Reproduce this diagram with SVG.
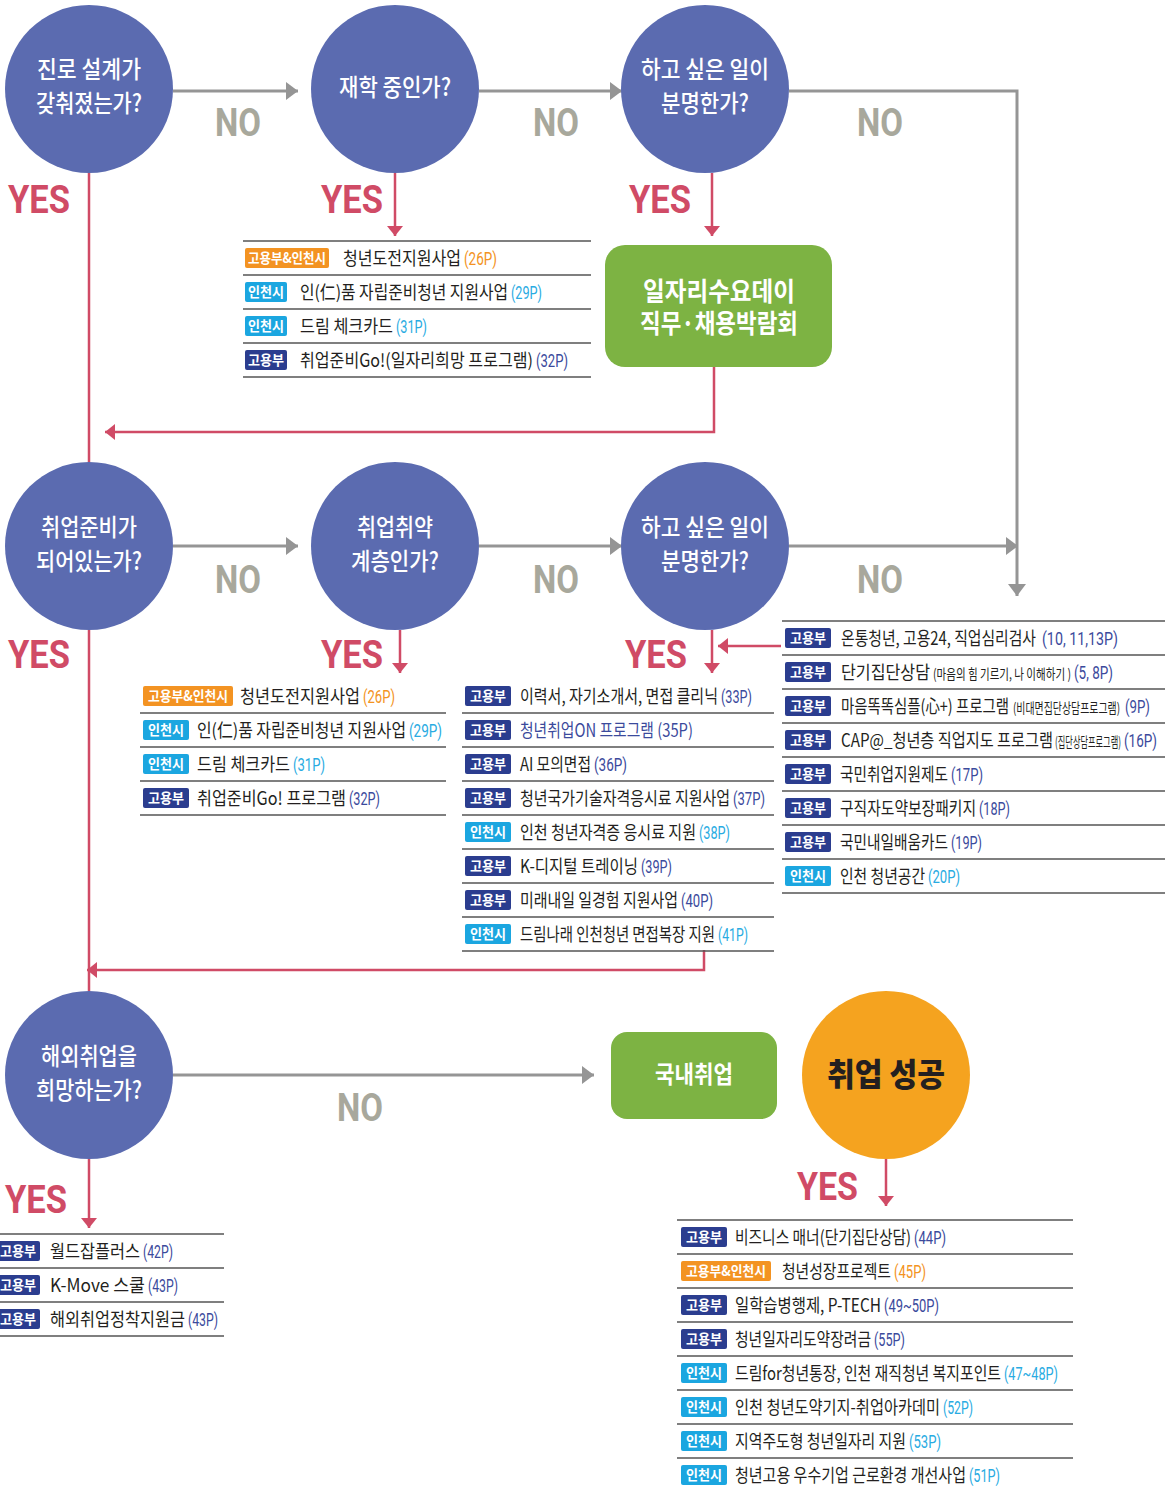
<svg xmlns="http://www.w3.org/2000/svg" width="1173" height="1487" viewBox="0 0 1173 1487">
<style>
.q{fill:#5b6bb0}
.qt{fill:#fff;font-family:"Noto Sans CJK KR",sans-serif;font-size:24px;font-weight:500;text-anchor:middle}
.yes{fill:#d04b66;font-family:Roboto,"Liberation Sans",sans-serif;font-size:39px;font-weight:700}
.no{fill:#a8a89c;font-family:Roboto,"Liberation Sans",sans-serif;font-size:38px;font-weight:700}
.gl{stroke:#959595;stroke-width:3;fill:none}
.rl{stroke:#d04b66;stroke-width:2.5;fill:none}
.sep{stroke:#555;stroke-width:1.5}
.bn{fill:#2b3d8f}.bc{fill:#1ba6e0}.bo{fill:#f39322}
.bt{fill:#fff;font-family:"Noto Sans CJK KR",sans-serif;font-size:14px;font-weight:700;text-anchor:middle}
.lt{fill:#231f20;font-family:"Noto Sans CJK KR",sans-serif;font-size:18px}
.pg{font-family:Roboto,"Noto Sans CJK KR",sans-serif;font-size:18px}
.pn{fill:#3b4a9c}.pc{fill:#29abe2}.po{fill:#f39322}
.sm{font-size:14px}
</style>
<defs>
<marker id="ga" markerUnits="userSpaceOnUse" markerWidth="14" markerHeight="18" refX="12" refY="9" orient="auto"><path d="M0,0 L12,9 L0,18 z" fill="#959595"/></marker>
<marker id="ra" markerUnits="userSpaceOnUse" markerWidth="12" markerHeight="18" refX="10" refY="9" orient="auto"><path d="M0,1 L10,9 L0,17 z" fill="#d04b66"/></marker>
</defs>

<g id="connectors">
<line class="gl" x1="173" y1="91" x2="298" y2="91" marker-end="url(#ga)"/>
<line class="gl" x1="479" y1="91" x2="622" y2="91" marker-end="url(#ga)"/>
<polyline class="gl" points="789,91 1017,91 1017,596" marker-end="url(#ga)"/>
<line class="gl" x1="173" y1="546" x2="298" y2="546" marker-end="url(#ga)"/>
<line class="gl" x1="479" y1="546" x2="622" y2="546" marker-end="url(#ga)"/>
<line class="gl" x1="789" y1="546" x2="1018" y2="546" marker-end="url(#ga)"/>
<line class="gl" x1="173" y1="1075" x2="594" y2="1075" marker-end="url(#ga)"/>

<line class="rl" x1="89" y1="173" x2="89" y2="462"/>
<line class="rl" x1="89" y1="630" x2="89" y2="991"/>
<line class="rl" x1="395" y1="173" x2="395" y2="236" marker-end="url(#ra)"/>
<line class="rl" x1="712" y1="173" x2="712" y2="236" marker-end="url(#ra)"/>
<polyline class="rl" points="714,367 714,432 105,432" marker-end="url(#ra)"/>
<line class="rl" x1="400" y1="630" x2="400" y2="673" marker-end="url(#ra)"/>
<line class="rl" x1="712" y1="630" x2="712" y2="673" marker-end="url(#ra)"/>
<line class="rl" x1="781" y1="646" x2="718" y2="646" marker-end="url(#ra)"/>
<polyline class="rl" points="704,950 704,970 87,970" marker-end="url(#ra)"/>
<line class="rl" x1="89" y1="1159" x2="89" y2="1228" marker-end="url(#ra)"/>
<line class="rl" x1="886" y1="1159" x2="886" y2="1206" marker-end="url(#ra)"/>
</g>

<g id="labels">
<text class="yes" x="8" y="213" textLength="62" lengthAdjust="spacingAndGlyphs">YES</text>
<text class="yes" x="321" y="213" textLength="62" lengthAdjust="spacingAndGlyphs">YES</text>
<text class="yes" x="629" y="213" textLength="62" lengthAdjust="spacingAndGlyphs">YES</text>
<text class="yes" x="8" y="668" textLength="62" lengthAdjust="spacingAndGlyphs">YES</text>
<text class="yes" x="321" y="668" textLength="62" lengthAdjust="spacingAndGlyphs">YES</text>
<text class="yes" x="625" y="668" textLength="62" lengthAdjust="spacingAndGlyphs">YES</text>
<text class="yes" x="5" y="1213" textLength="62" lengthAdjust="spacingAndGlyphs">YES</text>
<text class="yes" x="797" y="1200" textLength="61" lengthAdjust="spacingAndGlyphs">YES</text>
<text class="no" x="215" y="136" textLength="46" lengthAdjust="spacingAndGlyphs">NO</text>
<text class="no" x="533" y="136" textLength="46" lengthAdjust="spacingAndGlyphs">NO</text>
<text class="no" x="857" y="136" textLength="46" lengthAdjust="spacingAndGlyphs">NO</text>
<text class="no" x="215" y="593" textLength="46" lengthAdjust="spacingAndGlyphs">NO</text>
<text class="no" x="533" y="593" textLength="46" lengthAdjust="spacingAndGlyphs">NO</text>
<text class="no" x="857" y="593" textLength="46" lengthAdjust="spacingAndGlyphs">NO</text>
<text class="no" x="337" y="1121" textLength="46" lengthAdjust="spacingAndGlyphs">NO</text>
</g>

<g id="q1"><circle class="q" cx="89" cy="89" r="84"/>
<text class="qt" x="89" y="78" textLength="104" lengthAdjust="spacingAndGlyphs">진로 설계가</text>
<text class="qt" x="89" y="112" textLength="106" lengthAdjust="spacingAndGlyphs">갖춰졌는가?</text></g>
<g id="q2"><circle class="q" cx="395" cy="89" r="84"/>
<text class="qt" x="395" y="96" textLength="112" lengthAdjust="spacingAndGlyphs">재학 중인가?</text></g>
<g id="q3"><circle class="q" cx="705" cy="89" r="84"/>
<text class="qt" x="705" y="78" textLength="128" lengthAdjust="spacingAndGlyphs">하고 싶은 일이</text>
<text class="qt" x="705" y="112" textLength="88" lengthAdjust="spacingAndGlyphs">분명한가?</text></g>
<g id="q4"><circle class="q" cx="89" cy="546" r="84"/>
<text class="qt" x="89" y="536" textLength="96" lengthAdjust="spacingAndGlyphs">취업준비가</text>
<text class="qt" x="89" y="570" textLength="106" lengthAdjust="spacingAndGlyphs">되어있는가?</text></g>
<g id="q5"><circle class="q" cx="395" cy="546" r="84"/>
<text class="qt" x="395" y="536" textLength="76" lengthAdjust="spacingAndGlyphs">취업취약</text>
<text class="qt" x="395" y="570" textLength="88" lengthAdjust="spacingAndGlyphs">계층인가?</text></g>
<g id="q6"><circle class="q" cx="705" cy="546" r="84"/>
<text class="qt" x="705" y="536" textLength="128" lengthAdjust="spacingAndGlyphs">하고 싶은 일이</text>
<text class="qt" x="705" y="570" textLength="88" lengthAdjust="spacingAndGlyphs">분명한가?</text></g>
<g id="q7"><circle class="q" cx="89" cy="1075" r="84"/>
<text class="qt" x="89" y="1065" textLength="96" lengthAdjust="spacingAndGlyphs">해외취업을</text>
<text class="qt" x="89" y="1099" textLength="106" lengthAdjust="spacingAndGlyphs">희망하는가?</text></g>

<g id="jobfair"><rect x="605" y="245" width="227" height="122" rx="20" fill="#7db343"/>
<text x="719" y="301" transform="matrix(0.82 0 0 1 129.42 0)" fill="#fff" font-family="Noto Sans CJK KR,sans-serif" font-size="26" font-weight="700" text-anchor="middle" textLength="185.37" lengthAdjust="spacingAndGlyphs">일자리수요데이</text>
<text x="719" y="333" transform="matrix(0.74 0 0 1 186.94 0)" fill="#fff" font-family="Noto Sans CJK KR,sans-serif" font-size="26" font-weight="700" text-anchor="middle" textLength="213.5" lengthAdjust="spacingAndGlyphs">직무·채용박람회</text></g>

<g id="domestic"><rect x="611" y="1032" width="166" height="87" rx="16" fill="#7db343"/>
<text x="694" y="1083" fill="#fff" font-family="Noto Sans CJK KR,sans-serif" font-size="24" font-weight="700" text-anchor="middle" textLength="78" lengthAdjust="spacingAndGlyphs">국내취업</text></g>

<g id="success"><circle cx="886" cy="1075" r="84" fill="#f5a31f"/>
<text x="886" y="1086" fill="#231f20" font-family="Noto Sans CJK KR,sans-serif" font-size="32" font-weight="900" text-anchor="middle" textLength="118" lengthAdjust="spacingAndGlyphs">취업 성공</text></g>

<g id="list1">
<line class="sep" x1="243" y1="241" x2="591" y2="241"/><line class="sep" x1="243" y1="275" x2="591" y2="275"/><line class="sep" x1="243" y1="309" x2="591" y2="309"/><line class="sep" x1="243" y1="343" x2="591" y2="343"/><line class="sep" x1="243" y1="377" x2="591" y2="377"/>
<rect class="bo" x="245" y="248" width="84" height="20" rx="2"/><text class="bt" x="287" y="263" textLength="78" lengthAdjust="spacingAndGlyphs">고용부&amp;인천시</text>
<text class="lt" x="343" y="265" transform="matrix(0.7 0 0 1 102.9 0)" textLength="168.57" lengthAdjust="spacingAndGlyphs">청년도전지원사업</text><text class="pg po" x="464" y="265" transform="matrix(0.66 0 0 1 157.76 0)" textLength="50" lengthAdjust="spacingAndGlyphs">(26P)</text>
<rect class="bc" x="245" y="282" width="42" height="20" rx="2"/><text class="bt" x="266" y="297" textLength="36" lengthAdjust="spacingAndGlyphs">인천시</text>
<text class="lt" x="300" y="299" transform="matrix(0.7 0 0 1 90 0)" textLength="297.14" lengthAdjust="spacingAndGlyphs">인(仁)품 자립준비청년 지원사업</text><text class="pg pc" x="511" y="299" transform="matrix(0.66 0 0 1 173.74 0)" textLength="46.97" lengthAdjust="spacingAndGlyphs">(29P)</text>
<rect class="bc" x="245" y="316" width="42" height="20" rx="2"/><text class="bt" x="266" y="331" textLength="36" lengthAdjust="spacingAndGlyphs">인천시</text>
<text class="lt" x="300" y="333" transform="matrix(0.7 0 0 1 90 0)" textLength="132.86" lengthAdjust="spacingAndGlyphs">드림 체크카드</text><text class="pg pc" x="396" y="333" transform="matrix(0.66 0 0 1 134.64 0)" textLength="46.97" lengthAdjust="spacingAndGlyphs">(31P)</text>
<rect class="bn" x="245" y="350" width="42" height="20" rx="2"/><text class="bt" x="266" y="365" textLength="36" lengthAdjust="spacingAndGlyphs">고용부</text>
<text class="lt" x="300" y="367" transform="matrix(0.7 0 0 1 90 0)" textLength="332.86" lengthAdjust="spacingAndGlyphs">취업준비Go!(일자리희망 프로그램)</text><text class="pg pn" x="536" y="367" transform="matrix(0.66 0 0 1 182.24 0)" textLength="48.48" lengthAdjust="spacingAndGlyphs">(32P)</text>
</g>

<g id="list2">
<line class="sep" x1="140" y1="713" x2="446" y2="713"/><line class="sep" x1="140" y1="747" x2="446" y2="747"/><line class="sep" x1="140" y1="781" x2="446" y2="781"/><line class="sep" x1="140" y1="815" x2="446" y2="815"/>
<rect class="bo" x="143" y="686" width="90" height="20" rx="2"/><text class="bt" x="188" y="701" textLength="80" lengthAdjust="spacingAndGlyphs">고용부&amp;인천시</text>
<text class="lt" x="240" y="703" transform="matrix(0.7 0 0 1 72 0)" textLength="171.43" lengthAdjust="spacingAndGlyphs">청년도전지원사업</text><text class="pg po" x="363" y="703" transform="matrix(0.66 0 0 1 123.42 0)" textLength="48.48" lengthAdjust="spacingAndGlyphs">(26P)</text>
<rect class="bc" x="143" y="720" width="46" height="20" rx="2"/><text class="bt" x="166" y="735" textLength="36" lengthAdjust="spacingAndGlyphs">인천시</text>
<text class="lt" x="197" y="737" transform="matrix(0.7 0 0 1 59.1 0)" textLength="298.57" lengthAdjust="spacingAndGlyphs">인(仁)품 자립준비청년 지원사업</text><text class="pg pc" x="409" y="737" transform="matrix(0.66 0 0 1 139.06 0)" textLength="50" lengthAdjust="spacingAndGlyphs">(29P)</text>
<rect class="bc" x="143" y="754" width="46" height="20" rx="2"/><text class="bt" x="166" y="769" textLength="36" lengthAdjust="spacingAndGlyphs">인천시</text>
<text class="lt" x="197" y="771" transform="matrix(0.7 0 0 1 59.1 0)" textLength="132.86" lengthAdjust="spacingAndGlyphs">드림 체크카드</text><text class="pg pc" x="293" y="771" transform="matrix(0.66 0 0 1 99.62 0)" textLength="48.48" lengthAdjust="spacingAndGlyphs">(31P)</text>
<rect class="bn" x="143" y="788" width="46" height="20" rx="2"/><text class="bt" x="166" y="803" textLength="36" lengthAdjust="spacingAndGlyphs">고용부</text>
<text class="lt" x="197" y="805" transform="matrix(0.7 0 0 1 59.1 0)" textLength="212.86" lengthAdjust="spacingAndGlyphs">취업준비Go! 프로그램</text><text class="pg pn" x="349" y="805" transform="matrix(0.66 0 0 1 118.66 0)" textLength="46.97" lengthAdjust="spacingAndGlyphs">(32P)</text>
</g>

<g id="list3">
<line class="sep" x1="462" y1="713" x2="774" y2="713"/><line class="sep" x1="462" y1="747" x2="774" y2="747"/><line class="sep" x1="462" y1="781" x2="774" y2="781"/><line class="sep" x1="462" y1="815" x2="774" y2="815"/><line class="sep" x1="462" y1="849" x2="774" y2="849"/><line class="sep" x1="462" y1="883" x2="774" y2="883"/><line class="sep" x1="462" y1="917" x2="774" y2="917"/><line class="sep" x1="462" y1="951" x2="774" y2="951"/>
<rect class="bn" x="465" y="686" width="46" height="20" rx="2"/><text class="bt" x="488" y="701" textLength="36" lengthAdjust="spacingAndGlyphs">고용부</text>
<text class="lt" x="520" y="703" transform="matrix(0.7 0 0 1 156 0)" textLength="282.86" lengthAdjust="spacingAndGlyphs">이력서, 자기소개서, 면접 클리닉</text><text class="pg pn" x="721" y="703" transform="matrix(0.66 0 0 1 245.14 0)" textLength="46.97" lengthAdjust="spacingAndGlyphs">(33P)</text>
<rect class="bn" x="465" y="720" width="46" height="20" rx="2"/><text class="bt" x="488" y="735" textLength="36" lengthAdjust="spacingAndGlyphs">고용부</text>
<text class="lt pn" x="520" y="737" transform="matrix(0.7 0 0 1 156 0)" textLength="247.14" lengthAdjust="spacingAndGlyphs">청년취업ON 프로그램 (35P)</text>
<rect class="bn" x="465" y="754" width="46" height="20" rx="2"/><text class="bt" x="488" y="769" textLength="36" lengthAdjust="spacingAndGlyphs">고용부</text>
<text class="lt" x="520" y="771" transform="matrix(0.7 0 0 1 156 0)" textLength="101.43" lengthAdjust="spacingAndGlyphs">AI 모의면접</text><text class="pg pn" x="594" y="771" transform="matrix(0.66 0 0 1 201.96 0)" textLength="50" lengthAdjust="spacingAndGlyphs">(36P)</text>
<rect class="bn" x="465" y="788" width="46" height="20" rx="2"/><text class="bt" x="488" y="803" textLength="36" lengthAdjust="spacingAndGlyphs">고용부</text>
<text class="lt" x="520" y="805" transform="matrix(0.7 0 0 1 156 0)" textLength="300" lengthAdjust="spacingAndGlyphs">청년국가기술자격응시료 지원사업</text><text class="pg pn" x="733" y="805" transform="matrix(0.66 0 0 1 249.22 0)" textLength="48.48" lengthAdjust="spacingAndGlyphs">(37P)</text>
<rect class="bc" x="465" y="822" width="46" height="20" rx="2"/><text class="bt" x="488" y="837" textLength="36" lengthAdjust="spacingAndGlyphs">인천시</text>
<text class="lt" x="520" y="839" transform="matrix(0.7 0 0 1 156 0)" textLength="251.43" lengthAdjust="spacingAndGlyphs">인천 청년자격증 응시료 지원</text><text class="pg pc" x="699" y="839" transform="matrix(0.66 0 0 1 237.66 0)" textLength="46.97" lengthAdjust="spacingAndGlyphs">(38P)</text>
<rect class="bn" x="465" y="856" width="46" height="20" rx="2"/><text class="bt" x="488" y="871" textLength="36" lengthAdjust="spacingAndGlyphs">고용부</text>
<text class="lt" x="520" y="873" transform="matrix(0.7 0 0 1 156 0)" textLength="168.57" lengthAdjust="spacingAndGlyphs">K-디지털 트레이닝</text><text class="pg pn" x="641" y="873" transform="matrix(0.66 0 0 1 217.94 0)" textLength="46.97" lengthAdjust="spacingAndGlyphs">(39P)</text>
<rect class="bn" x="465" y="890" width="46" height="20" rx="2"/><text class="bt" x="488" y="905" textLength="36" lengthAdjust="spacingAndGlyphs">고용부</text>
<text class="lt" x="520" y="907" transform="matrix(0.7 0 0 1 156 0)" textLength="225.71" lengthAdjust="spacingAndGlyphs">미래내일 일경험 지원사업</text><text class="pg pn" x="681" y="907" transform="matrix(0.66 0 0 1 231.54 0)" textLength="48.48" lengthAdjust="spacingAndGlyphs">(40P)</text>
<rect class="bc" x="465" y="924" width="46" height="20" rx="2"/><text class="bt" x="488" y="939" textLength="36" lengthAdjust="spacingAndGlyphs">인천시</text>
<text class="lt" x="520" y="941" transform="matrix(0.7 0 0 1 156 0)" textLength="278.57" lengthAdjust="spacingAndGlyphs">드림나래 인천청년 면접복장 지원</text><text class="pg pc" x="718" y="941" transform="matrix(0.66 0 0 1 244.12 0)" textLength="45.45" lengthAdjust="spacingAndGlyphs">(41P)</text>
</g>

<g id="list4">
<line class="sep" x1="782" y1="621" x2="1165" y2="621"/><line class="sep" x1="782" y1="655" x2="1165" y2="655"/><line class="sep" x1="782" y1="689" x2="1165" y2="689"/><line class="sep" x1="782" y1="723" x2="1165" y2="723"/><line class="sep" x1="782" y1="757" x2="1165" y2="757"/><line class="sep" x1="782" y1="791" x2="1165" y2="791"/><line class="sep" x1="782" y1="825" x2="1165" y2="825"/><line class="sep" x1="782" y1="859" x2="1165" y2="859"/><line class="sep" x1="782" y1="893" x2="1165" y2="893"/>
<rect class="bn" x="785" y="628" width="46" height="20" rx="2"/><text class="bt" x="808" y="643" textLength="36" lengthAdjust="spacingAndGlyphs">고용부</text>
<text class="lt" x="841" y="645" transform="matrix(0.7 0 0 1 252.3 0)" textLength="278.57" lengthAdjust="spacingAndGlyphs">온통청년, 고용24, 직업심리검사</text><text class="pg pn" x="1042" y="645" transform="matrix(0.66 0 0 1 354.28 0)" textLength="115.15" lengthAdjust="spacingAndGlyphs">(10, 11,13P)</text>
<rect class="bn" x="785" y="662" width="46" height="20" rx="2"/><text class="bt" x="808" y="677" textLength="36" lengthAdjust="spacingAndGlyphs">고용부</text>
<text class="lt" x="841" y="679" transform="matrix(0.7 0 0 1 252.3 0)" textLength="127.14" lengthAdjust="spacingAndGlyphs">단기집단상담</text><text class="lt sm" x="933" y="679" transform="matrix(0.66 0 0 1 317.22 0)" textLength="209.09" lengthAdjust="spacingAndGlyphs">(마음의 힘 기르기, 나 이해하기 )</text><text class="pg pn" x="1074" y="679" transform="matrix(0.66 0 0 1 365.16 0)" textLength="59.09" lengthAdjust="spacingAndGlyphs">(5, 8P)</text>
<rect class="bn" x="785" y="696" width="46" height="20" rx="2"/><text class="bt" x="808" y="711" textLength="36" lengthAdjust="spacingAndGlyphs">고용부</text>
<text class="lt" x="841" y="713" transform="matrix(0.7 0 0 1 252.3 0)" textLength="240" lengthAdjust="spacingAndGlyphs">마음똑똑심플(心+) 프로그램</text><text class="lt sm" x="1013" y="713" transform="matrix(0.62 0 0 1 384.94 0)" textLength="172.58" lengthAdjust="spacingAndGlyphs">(비대면집단상담프로그램)</text><text class="pg pn" x="1125" y="713" transform="matrix(0.66 0 0 1 382.5 0)" textLength="37.88" lengthAdjust="spacingAndGlyphs">(9P)</text>
<rect class="bn" x="785" y="730" width="46" height="20" rx="2"/><text class="bt" x="808" y="745" textLength="36" lengthAdjust="spacingAndGlyphs">고용부</text>
<text class="lt" x="841" y="747" transform="matrix(0.7 0 0 1 252.3 0)" textLength="302.86" lengthAdjust="spacingAndGlyphs">CAP@_청년층 직업지도 프로그램</text><text class="lt sm" x="1055" y="747" transform="matrix(0.5 0 0 1 527.5 0)" textLength="132" lengthAdjust="spacingAndGlyphs">(집단상담프로그램)</text><text class="pg pn" x="1124" y="747" transform="matrix(0.66 0 0 1 382.16 0)" textLength="50" lengthAdjust="spacingAndGlyphs">(16P)</text>
<rect class="bn" x="785" y="764" width="46" height="20" rx="2"/><text class="bt" x="808" y="779" textLength="36" lengthAdjust="spacingAndGlyphs">고용부</text>
<text class="lt" x="840" y="781" transform="matrix(0.7 0 0 1 252 0)" textLength="154.29" lengthAdjust="spacingAndGlyphs">국민취업지원제도</text><text class="pg pn" x="951" y="781" transform="matrix(0.66 0 0 1 323.34 0)" textLength="48.48" lengthAdjust="spacingAndGlyphs">(17P)</text>
<rect class="bn" x="785" y="798" width="46" height="20" rx="2"/><text class="bt" x="808" y="813" textLength="36" lengthAdjust="spacingAndGlyphs">고용부</text>
<text class="lt" x="840" y="815" transform="matrix(0.7 0 0 1 252 0)" textLength="194.29" lengthAdjust="spacingAndGlyphs">구직자도약보장패키지</text><text class="pg pn" x="979" y="815" transform="matrix(0.66 0 0 1 332.86 0)" textLength="46.97" lengthAdjust="spacingAndGlyphs">(18P)</text>
<rect class="bn" x="785" y="832" width="46" height="20" rx="2"/><text class="bt" x="808" y="847" textLength="36" lengthAdjust="spacingAndGlyphs">고용부</text>
<text class="lt" x="840" y="849" transform="matrix(0.7 0 0 1 252 0)" textLength="154.29" lengthAdjust="spacingAndGlyphs">국민내일배움카드</text><text class="pg pn" x="951" y="849" transform="matrix(0.66 0 0 1 323.34 0)" textLength="46.97" lengthAdjust="spacingAndGlyphs">(19P)</text>
<rect class="bc" x="785" y="866" width="46" height="20" rx="2"/><text class="bt" x="808" y="881" textLength="36" lengthAdjust="spacingAndGlyphs">인천시</text>
<text class="lt" x="840" y="883" transform="matrix(0.7 0 0 1 252 0)" textLength="121.43" lengthAdjust="spacingAndGlyphs">인천 청년공간</text><text class="pg pc" x="928" y="883" transform="matrix(0.66 0 0 1 315.52 0)" textLength="48.48" lengthAdjust="spacingAndGlyphs">(20P)</text>
</g>

<g id="list5">
<line class="sep" x1="0" y1="1234" x2="224" y2="1234"/><line class="sep" x1="0" y1="1268" x2="224" y2="1268"/><line class="sep" x1="0" y1="1302" x2="224" y2="1302"/><line class="sep" x1="0" y1="1336" x2="224" y2="1336"/>
<rect class="bn" x="-6" y="1241" width="46" height="20" rx="2"/><text class="bt" x="18" y="1256" textLength="36" lengthAdjust="spacingAndGlyphs">고용부</text>
<text class="lt" x="50" y="1258" transform="matrix(0.7 0 0 1 15 0)" textLength="128.57" lengthAdjust="spacingAndGlyphs">월드잡플러스</text><text class="pg pn" x="143" y="1258" transform="matrix(0.66 0 0 1 48.62 0)" textLength="45.45" lengthAdjust="spacingAndGlyphs">(42P)</text>
<rect class="bn" x="-6" y="1275" width="46" height="20" rx="2"/><text class="bt" x="18" y="1290" textLength="36" lengthAdjust="spacingAndGlyphs">고용부</text>
<text class="lt" x="50" y="1292" transform="matrix(0.7 0 0 1 15 0)" textLength="135.71" lengthAdjust="spacingAndGlyphs">K-Move 스쿨</text><text class="pg pn" x="148" y="1292" transform="matrix(0.66 0 0 1 50.32 0)" textLength="45.45" lengthAdjust="spacingAndGlyphs">(43P)</text>
<rect class="bn" x="-6" y="1309" width="46" height="20" rx="2"/><text class="bt" x="18" y="1324" textLength="36" lengthAdjust="spacingAndGlyphs">고용부</text>
<text class="lt" x="50" y="1326" transform="matrix(0.7 0 0 1 15 0)" textLength="192.86" lengthAdjust="spacingAndGlyphs">해외취업정착지원금</text><text class="pg pn" x="188" y="1326" transform="matrix(0.66 0 0 1 63.92 0)" textLength="45.45" lengthAdjust="spacingAndGlyphs">(43P)</text>
</g>

<g id="list6">
<line class="sep" x1="677" y1="1220" x2="1073" y2="1220"/><line class="sep" x1="677" y1="1254" x2="1073" y2="1254"/><line class="sep" x1="677" y1="1288" x2="1073" y2="1288"/><line class="sep" x1="677" y1="1322" x2="1073" y2="1322"/><line class="sep" x1="677" y1="1356" x2="1073" y2="1356"/><line class="sep" x1="677" y1="1390" x2="1073" y2="1390"/><line class="sep" x1="677" y1="1424" x2="1073" y2="1424"/><line class="sep" x1="677" y1="1458" x2="1073" y2="1458"/>
<rect class="bn" x="681" y="1227" width="46" height="20" rx="2"/><text class="bt" x="704" y="1242" textLength="36" lengthAdjust="spacingAndGlyphs">고용부</text>
<text class="lt" x="735" y="1244" transform="matrix(0.7 0 0 1 220.5 0)" textLength="251.43" lengthAdjust="spacingAndGlyphs">비즈니스 매너(단기집단상담)</text><text class="pg pn" x="914" y="1244" transform="matrix(0.66 0 0 1 310.76 0)" textLength="48.48" lengthAdjust="spacingAndGlyphs">(44P)</text>
<rect class="bo" x="681" y="1261" width="90" height="20" rx="2"/><text class="bt" x="726" y="1276" textLength="80" lengthAdjust="spacingAndGlyphs">고용부&amp;인천시</text>
<text class="lt" x="782" y="1278" transform="matrix(0.7 0 0 1 234.6 0)" textLength="155.71" lengthAdjust="spacingAndGlyphs">청년성장프로젝트</text><text class="pg po" x="894" y="1278" transform="matrix(0.66 0 0 1 303.96 0)" textLength="48.48" lengthAdjust="spacingAndGlyphs">(45P)</text>
<rect class="bn" x="681" y="1295" width="46" height="20" rx="2"/><text class="bt" x="704" y="1310" textLength="36" lengthAdjust="spacingAndGlyphs">고용부</text>
<text class="lt" x="735" y="1312" transform="matrix(0.7 0 0 1 220.5 0)" textLength="208.57" lengthAdjust="spacingAndGlyphs">일학습병행제, P-TECH</text><text class="pg pn" x="884" y="1312" transform="matrix(0.66 0 0 1 300.56 0)" textLength="83.33" lengthAdjust="spacingAndGlyphs">(49~50P)</text>
<rect class="bn" x="681" y="1329" width="46" height="20" rx="2"/><text class="bt" x="704" y="1344" textLength="36" lengthAdjust="spacingAndGlyphs">고용부</text>
<text class="lt" x="735" y="1346" transform="matrix(0.7 0 0 1 220.5 0)" textLength="194.29" lengthAdjust="spacingAndGlyphs">청년일자리도약장려금</text><text class="pg pn" x="874" y="1346" transform="matrix(0.66 0 0 1 297.16 0)" textLength="46.97" lengthAdjust="spacingAndGlyphs">(55P)</text>
<rect class="bc" x="681" y="1363" width="46" height="20" rx="2"/><text class="bt" x="704" y="1378" textLength="36" lengthAdjust="spacingAndGlyphs">인천시</text>
<text class="lt" x="735" y="1380" transform="matrix(0.7 0 0 1 220.5 0)" textLength="380" lengthAdjust="spacingAndGlyphs">드림for청년통장, 인천 재직청년 복지포인트</text><text class="pg pc" x="1004" y="1380" transform="matrix(0.66 0 0 1 341.36 0)" textLength="81.82" lengthAdjust="spacingAndGlyphs">(47~48P)</text>
<rect class="bc" x="681" y="1397" width="46" height="20" rx="2"/><text class="bt" x="704" y="1412" textLength="36" lengthAdjust="spacingAndGlyphs">인천시</text>
<text class="lt" x="735" y="1414" transform="matrix(0.7 0 0 1 220.5 0)" textLength="292.86" lengthAdjust="spacingAndGlyphs">인천 청년도약기지-취업아카데미</text><text class="pg pc" x="943" y="1414" transform="matrix(0.66 0 0 1 320.62 0)" textLength="45.45" lengthAdjust="spacingAndGlyphs">(52P)</text>
<rect class="bc" x="681" y="1431" width="46" height="20" rx="2"/><text class="bt" x="704" y="1446" textLength="36" lengthAdjust="spacingAndGlyphs">인천시</text>
<text class="lt" x="735" y="1448" transform="matrix(0.7 0 0 1 220.5 0)" textLength="244.29" lengthAdjust="spacingAndGlyphs">지역주도형 청년일자리 지원</text><text class="pg pc" x="909" y="1448" transform="matrix(0.66 0 0 1 309.06 0)" textLength="48.48" lengthAdjust="spacingAndGlyphs">(53P)</text>
<rect class="bc" x="681" y="1465" width="46" height="20" rx="2"/><text class="bt" x="704" y="1480" textLength="36" lengthAdjust="spacingAndGlyphs">인천시</text>
<text class="lt" x="735" y="1482" transform="matrix(0.7 0 0 1 220.5 0)" textLength="330" lengthAdjust="spacingAndGlyphs">청년고용 우수기업 근로환경 개선사업</text><text class="pg pc" x="969" y="1482" transform="matrix(0.66 0 0 1 329.46 0)" textLength="46.97" lengthAdjust="spacingAndGlyphs">(51P)</text>
</g>
</svg>
